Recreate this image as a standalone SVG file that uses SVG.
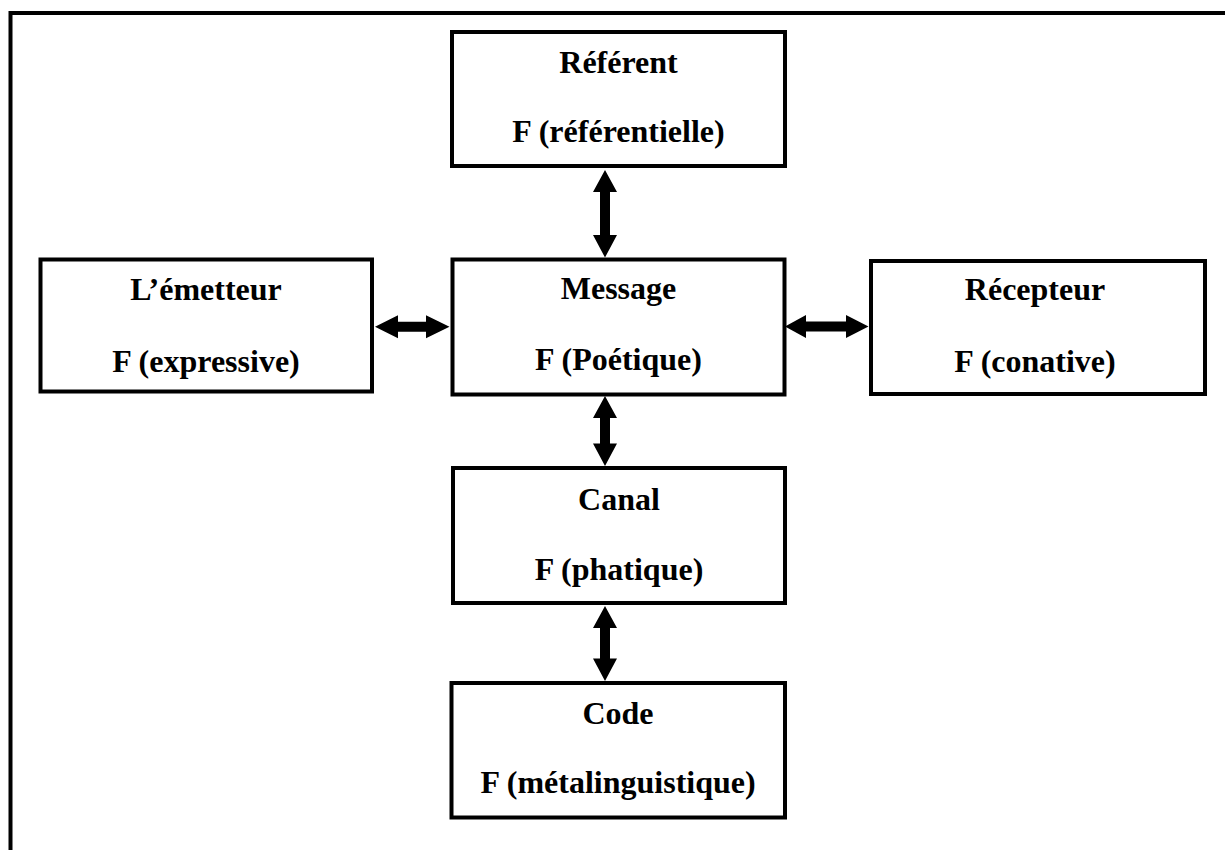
<svg xmlns="http://www.w3.org/2000/svg" width="1225" height="850" viewBox="0 0 1225 850">
  <style>
    .frame { fill: none; stroke: #000; stroke-width: 4; }
    .box { fill: #fff; stroke: #000; stroke-width: 4; }
    .lbl { font-family: "Liberation Serif", "Times New Roman", serif; font-weight: bold; font-size: 32px; fill: #000; text-anchor: middle; }
    .arrow { fill: #000; stroke: none; }
  </style>
  <rect x="0" y="0" width="1225" height="850" fill="#fff"/>
  <path class="frame" d="M10.5,850 V13 H1225"/>

  <g id="connectors">
    <path class="arrow" d="M605,170 L617,192 L610,192 L610,235 L617,235 L605,257.5 L593,235 L600,235 L600,192 L593,192 Z"/>
    <path class="arrow" d="M605,396 L617,418 L610,418 L610,443.5 L617,443.5 L605,466 L593,443.5 L600,443.5 L600,418 L593,418 Z"/>
    <path class="arrow" d="M605,606 L617,628 L610,628 L610,658.5 L617,658.5 L605,681 L593,658.5 L600,658.5 L600,628 L593,628 Z"/>
    <path class="arrow" d="M375,326.7 L398,315.2 L398,321.7 L426,321.7 L426,315.2 L449.5,326.7 L426,338.2 L426,331.7 L398,331.7 L398,338.2 Z"/>
    <path class="arrow" d="M785,326.5 L806,315 L806,321.5 L846,321.5 L846,315 L868.5,326.5 L846,338 L846,331.5 L806,331.5 L806,338 Z"/>
  </g>

  <g id="referent">
    <rect class="box" x="452" y="32" width="333" height="134"/>
    <text class="lbl" x="618.5" y="73">Référent</text>
    <text class="lbl" x="618.5" y="142">F (référentielle)</text>
  </g>
  <g id="emetteur">
    <rect class="box" x="40.5" y="259.5" width="331.5" height="132"/>
    <text class="lbl" x="206" y="300">L’émetteur</text>
    <text class="lbl" x="206" y="371.5">F (expressive)</text>
  </g>
  <g id="message">
    <rect class="box" x="452.5" y="259.5" width="332" height="135"/>
    <text class="lbl" x="618.5" y="298.5">Message</text>
    <text class="lbl" x="618.5" y="370">F (Poétique)</text>
  </g>
  <g id="recepteur">
    <rect class="box" x="871" y="261" width="334" height="133"/>
    <text class="lbl" x="1035" y="300">Récepteur</text>
    <text class="lbl" x="1035" y="371.5">F (conative)</text>
  </g>
  <g id="canal">
    <rect class="box" x="453" y="468" width="332" height="135"/>
    <text class="lbl" x="619" y="509.5">Canal</text>
    <text class="lbl" x="619" y="579.5">F (phatique)</text>
  </g>
  <g id="code">
    <rect class="box" x="451.5" y="683" width="333.5" height="134.5"/>
    <text class="lbl" x="618" y="724">Code</text>
    <text class="lbl" x="618" y="792.5">F (métalinguistique)</text>
  </g>
</svg>
